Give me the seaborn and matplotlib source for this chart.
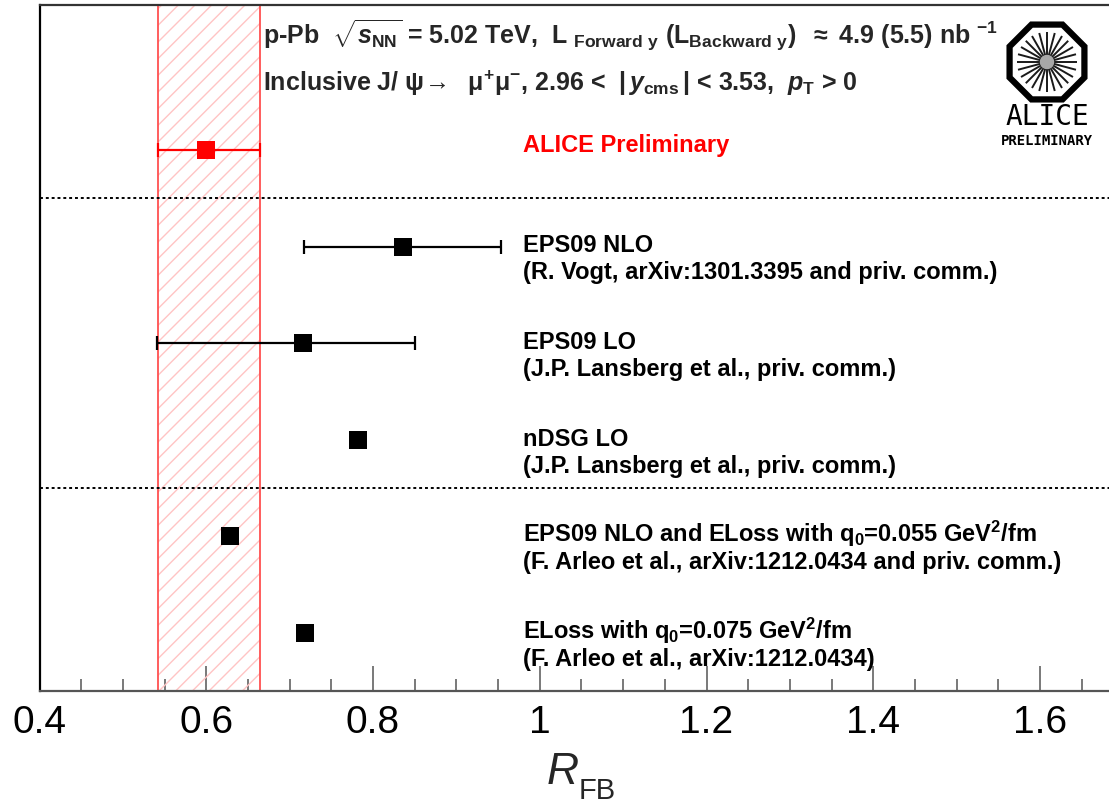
import numpy as np
import pandas as pd
import matplotlib
matplotlib.use("Agg")
import matplotlib.pyplot as plt
import seaborn as sns
from matplotlib.patches import RegularPolygon, Circle
from matplotlib.ticker import MultipleLocator

# ---- measured forward/backward ratio (inclusive J/psi, p-Pb 5.02 TeV)
alice_value = 0.60
alice_err_low = 0.058
alice_err_high = 0.064

# ---- model predictions
model_names = [
    "EPS09 NLO",
    "EPS09 LO",
    "nDSG LO",
    "EPS09 NLO and ELoss with q$_{\\mathrm{0}}$=0.055 GeV$^{\\mathrm{2}}$/fm",
    "ELoss with q$_{\\mathrm{0}}$=0.075 GeV$^{\\mathrm{2}}$/fm",
]
model_refs = [
    "(R. Vogt, arXiv:1301.3395 and priv. comm.)",
    "(J.P. Lansberg et al., priv. comm.)",
    "(J.P. Lansberg et al., priv. comm.)",
    "(F. Arleo et al., arXiv:1212.0434 and priv. comm.)",
    "(F. Arleo et al., arXiv:1212.0434)",
]
model_values = [0.836, 0.716, 0.7815, 0.629, 0.718]
model_err_low = [0.119, 0.175, 0.0, 0.0, 0.0]
model_err_high = [0.117, 0.134, 0.0, 0.0, 0.0]

x_ticks = [0.4, 0.6, 0.8, 1.0, 1.2, 1.4, 1.6]
x_tick_labels = ["0.4", "0.6", "0.8", "1", "1.2", "1.4", "1.6"]

header_line1 = (r"p-Pb  $\sqrt{s_{\mathrm{NN}}}$ = 5.02 TeV,  L $_{\mathrm{Forward\ y}}$ "
                r"(L$_{\mathrm{Backward\ y}}$)  $\approx$ 4.9 (5.5) nb $^{\mathrm{-1}}$")
header_line2 = (r"Inclusive J/ $\mathrm{\psi}\!\rightarrow$  $\mathrm{\mu^{+}\mu^{-}}$, 2.96 <  "
                r"$|\,y_{\mathrm{cms}}\,|$ < 3.53,  $p_{\mathrm{T}}$ > 0")
alice_label = "ALICE Preliminary"

# ---- style
sns.set_theme(style="white")
plt.rcParams["font.family"] = ["Liberation Sans", "DejaVu Sans"]
plt.rcParams["mathtext.fontset"] = "custom"
plt.rcParams["mathtext.rm"] = "Liberation Sans:bold"
plt.rcParams["mathtext.it"] = "Liberation Sans:bold:italic"
plt.rcParams["mathtext.bf"] = "Liberation Sans:bold"
plt.rcParams["hatch.linewidth"] = 1.0

W, H = 1109, 805
fig = plt.figure(figsize=(W / 100, H / 100), dpi=100)
ax = fig.add_axes([39.5 / W, 1 - 691 / H, 1 - 39.5 / W, (691 - 5) / H])

n_rows = len(model_names) + 1
alice_row = n_rows - 0.4
model_rows = [alice_row - 1 - i for i in range(len(model_names))]

df = pd.DataFrame({
    "R_FB": [alice_value] + model_values,
    "row": [alice_row] + model_rows,
    "kind": ["data"] + ["model"] * len(model_values),
})

# uncertainty band of the measurement
band_lo = alice_value - alice_err_low
band_hi = alice_value + alice_err_high
ax.axvspan(band_lo, band_hi, facecolor="none", edgecolor="#ffc4c4",
           hatch="//", linewidth=0, zorder=1)
for xb in (band_lo, band_hi):
    ax.axvline(xb, color="#ff5050", lw=1.3, zorder=2)

# block separators
for ysep in (alice_row - 0.5, model_rows[2] - 0.5):
    ax.axhline(ysep, color="black", lw=1.4, ls=(0, (1.5, 1.5)), zorder=2)

# horizontal error bars
ax.errorbar([alice_value], [alice_row], xerr=[[alice_err_low], [alice_err_high]],
            fmt="none", ecolor="#ff0000", elinewidth=1.6, capsize=5, capthick=1.6, zorder=3)
mv = np.array(model_values)
mr = np.array(model_rows)
lo = np.array(model_err_low)
hi = np.array(model_err_high)
has_err = (lo + hi) > 0
ax.errorbar(mv[has_err], mr[has_err], xerr=[lo[has_err], hi[has_err]],
            fmt="none", ecolor="black", elinewidth=1.6, capsize=5, capthick=1.6, zorder=3)

sns.scatterplot(data=df, x="R_FB", y="row", hue="kind",
                palette={"data": "#ff0000", "model": "black"},
                marker="s", s=13 ** 2, linewidth=0, legend=False, ax=ax, zorder=5)

ax.set_xlim(0.4, 0.4 + (W - 39.5) / 833.75)
ax.set_ylim(0, n_rows + 1.1)
ax.set_xlabel("")
ax.set_ylabel("")
ax.set_yticks([])
ax.set_xticks(x_ticks)
ax.set_xticklabels(x_tick_labels)
ax.xaxis.set_minor_locator(MultipleLocator(0.05))
ax.tick_params(axis="x", which="major", direction="in", length=18, width=1.1,
               color="#555555", labelsize=28, pad=10, labelcolor="black")
ax.tick_params(axis="x", which="minor", direction="in", length=9, width=1.1,
               color="#555555")
ax.tick_params(axis="x", which="both", bottom=True, top=False)

for side in ("left", "top", "bottom"):
    ax.spines[side].set_visible(True)
    ax.spines[side].set_linewidth(1.6)
ax.spines["left"].set_color("black")
ax.spines["top"].set_color("#333333")
ax.spines["bottom"].set_color("#555555")
ax.spines["right"].set_visible(False)

# text annotations
txt_x = 0.98
fs = 17
for name, ref, yr in zip(model_names, model_refs, model_rows):
    ax.text(txt_x, yr - 0.06, name, fontsize=fs, fontweight="bold",
            va="baseline", ha="left", color="black")
    ax.text(txt_x, yr - 0.34, ref, fontsize=fs, fontweight="bold",
            va="baseline", ha="left", color="black")
ax.text(txt_x, alice_row - 0.02, alice_label, fontsize=fs, fontweight="bold",
        color="#ff0000", va="baseline", ha="left")

head_x = 0.668
ax.text(head_x, 6.71, header_line1, fontsize=18, fontweight="bold", va="baseline", ha="left")
ax.text(head_x, 6.21, header_line2, fontsize=18, fontweight="bold", va="baseline", ha="left")

# axis title
fig.text(547 / W, 1 - 784 / H, "R", fontsize=32, style="italic",
         family="Liberation Sans", va="baseline", ha="left")
fig.text(579 / W, 1 - 799 / H, "FB", fontsize=21,
         family="Liberation Sans", va="baseline", ha="left")

# collaboration logo
lax = fig.add_axes([997 / W, 1 - 112 / H, 100 / W, 100 / H])
lax.set_xlim(-1, 1)
lax.set_ylim(-1, 1)
lax.set_aspect("equal")
lax.axis("off")
lax.add_patch(RegularPolygon((0, 0), numVertices=8, radius=0.81,
                             orientation=np.pi / 8, fill=False,
                             edgecolor="black", lw=4.5))
for ang in np.linspace(0, np.pi, 12, endpoint=False):
    dx, dy = 0.60 * np.cos(ang), 0.60 * np.sin(ang)
    lax.plot([-dx, dx], [-dy, dy], color="#1a1a1a", lw=1.4, solid_capstyle="butt")
lax.add_patch(Circle((0, 0), 0.13, color="#a8a8a8", zorder=3))

fig.text(1047 / W, 1 - 117 / H, "ALICE", fontsize=20, family="DejaVu Sans Mono",
         ha="center", va="center", color="black")
fig.text(1047 / W, 1 - 141 / H, "PRELIMINARY", fontsize=10, family="DejaVu Sans Mono",
         fontweight="bold", ha="center", va="center", color="black")

fig.savefig("out.png", dpi=100)
